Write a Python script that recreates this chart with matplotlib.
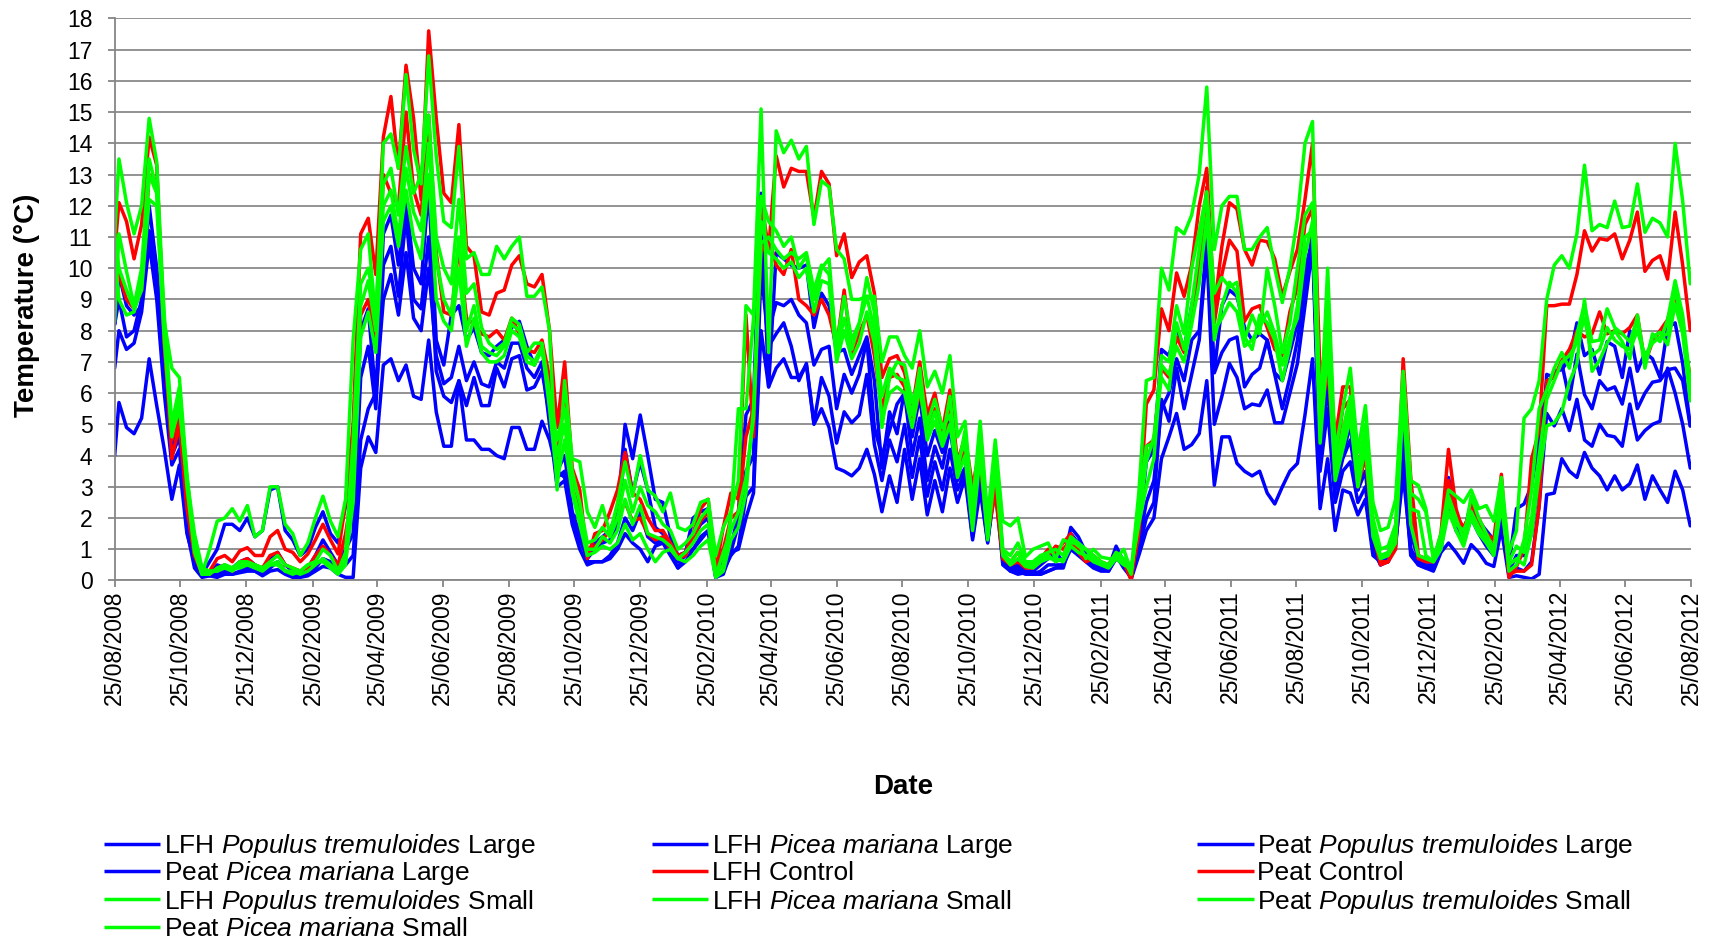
import matplotlib
matplotlib.use("Agg")
import matplotlib.pyplot as plt
from matplotlib import font_manager
from matplotlib.lines import Line2D
import pandas as pd

# Sampling schedule: logger start, then weekly means
START_DATE = "2008-08-25"
FIRST_WEEK = "2008-08-29"
N_WEEKS = 209

TICK_LABELS = ["25/08/2008", "25/10/2008", "25/12/2008", "25/02/2009", "25/04/2009",
               "25/06/2009", "25/08/2009", "25/10/2009", "25/12/2009", "25/02/2010",
               "25/04/2010", "25/06/2010", "25/08/2010", "25/10/2010", "25/12/2010",
               "25/02/2011", "25/04/2011", "25/06/2011", "25/08/2011", "25/10/2011",
               "25/12/2011", "25/02/2012", "25/04/2012", "25/06/2012", "25/08/2012"]
Y_TICKS = list(range(0, 19))

# Weekly mean soil temperature (deg C)
peat_populus_large = [
    8.2, 9.8, 8.8, 8.5, 8.8, 12.0, 10.0, 7.0, 4.3, 5.0, 2.2, 0.7, 0.2,
    0.6, 1.0, 1.8, 1.8, 1.6, 2.0, 1.4, 1.6, 2.9, 3.0, 1.6, 1.3, 0.8, 1.0, 1.7, 2.2, 1.5, 1.2, 2.4,
    2.8, 8.0, 8.7, 5.9,
    11.1, 11.7, 10.1, 12.2, 10.0, 9.5, 12.6, 7.7, 6.9, 8.5, 8.8, 7.7, 8.1, 7.3, 7.2, 7.5, 7.7, 8.1, 8.3, 7.5, 6.9, 7.5, 5.9,
    3.5, 4.0, 2.2, 1.5,
    0.9, 1.2, 1.4, 1.6, 2.2, 5.0, 3.9, 5.3, 4.0, 2.6, 2.5, 1.4, 0.8, 0.9, 2.0, 2.2, 2.3, 0.2,
    1.0, 1.0, 2.2, 5.3, 5.8, 12.4, 6.2,
    10.5, 10.3, 10.1, 10.0, 10.1, 8.1, 9.2, 8.8, 7.3, 7.4, 6.6, 7.2, 7.8, 6.4, 3.6, 5.4, 4.7,
    6.1, 4.6, 5.9, 4.0, 4.8, 4.1, 5.3, 3.5, 4.1, 1.6, 3.6, 1.4, 3.8, 0.7, 0.4, 0.5, 0.3,
    0.3, 0.5, 0.7, 0.9, 0.6, 1.7, 1.4, 0.9, 0.7, 0.5, 0.4, 1.1, 0.6, 0.2,
    1.5, 3.8, 4.2,
    7.4, 7.2, 8.1, 7.4, 8.8, 10.0, 11.1, 6.7, 8.8, 9.3, 9.1, 8.1, 7.7, 7.9, 7.7, 6.65, 6.4, 7.3, 8.25, 10.0, 10.85,
    4.5, 6.8, 3.1, 4.0, 5.0, 2.9, 4.1, 1.3, 0.6, 0.8, 1.4, 5.0, 1.5, 0.7,
    0.5, 0.5, 1.3, 3.3, 2.2, 1.5, 2.5, 1.9, 1.6, 1.3, 2.5, 0.5, 2.3,
    2.45, 3.05, 4.5, 6.2, 6.7, 6.75, 7.1, 8.25, 7.2, 7.4, 6.6, 7.65, 7.5, 6.5, 8.0, 6.7, 7.3, 7.1, 6.5, 8.1, 8.25, 6.95, 4.95,
]

lfh_populus_large = [
    8.2, 9.0, 7.8, 8.0, 9.0, 11.2, 9.5, 6.5, 4.0, 4.6, 1.8, 0.5, 0.15,
    0.2, 0.5, 0.4, 0.4, 0.6, 0.7, 0.5, 0.3, 0.7, 0.9, 0.5, 0.3, 0.3, 0.4, 0.8, 1.3, 0.9, 0.5, 1.0,
    1.5, 6.5, 7.5, 5.5,
    10.1, 10.7, 9.1, 11.7, 9.0, 8.7, 11.0, 6.7, 5.9, 5.7, 6.4, 5.6, 6.5, 5.6, 5.6, 6.8, 6.2, 7.1, 7.2, 6.1, 6.2, 6.7, 5.3,
    3.3, 3.5, 2.0, 1.3,
    0.7, 1.0, 1.2, 1.3, 1.8, 4.2, 2.8, 3.8, 2.9, 1.7, 1.5, 1.2, 0.6, 0.8, 1.4, 1.8, 2.0, 0.2,
    0.6, 0.9, 1.8, 3.5, 4.0, 11.0, 8.0,
    8.9, 8.8, 9.0, 8.5, 8.25, 6.9, 7.4, 7.5, 5.5, 6.6, 6.0, 6.6, 7.7, 4.9, 4.0, 4.8, 5.65,
    6.0, 4.0, 5.2, 3.2, 4.3, 3.6, 4.9, 3.2, 3.6, 1.5, 3.4, 1.3, 3.3, 0.6, 0.35, 0.4, 0.25,
    0.2, 0.3, 0.5, 0.5, 0.5, 1.5, 1.2, 0.8, 0.6, 0.4, 0.4, 0.9, 0.5, 0.1,
    1.2, 2.5, 3.2,
    5.5, 6.0, 7.1, 6.4, 7.7, 8.0, 10.9, 6.65, 7.3, 7.7, 7.8, 6.2, 6.6, 6.8, 7.7, 6.6, 5.5, 6.5, 7.7, 9.4, 11.2,
    4.1, 6.2, 2.9, 3.9, 4.5, 2.9, 3.5, 1.1, 0.5, 0.7, 1.2, 4.2, 1.0, 0.6,
    0.45, 0.4, 1.1, 2.8, 1.9, 1.3, 2.2, 1.7, 1.3, 1.0, 2.2, 0.3, 0.8,
    0.8, 1.5, 3.3, 6.6, 6.5, 6.95, 5.8, 7.25, 5.95, 5.5, 6.4, 6.1, 6.2, 5.65, 6.8, 5.5, 6.0, 6.35, 6.4, 6.75, 6.8, 6.4, 4.95,
]

lfh_picea_large = [
    6.8, 8.0, 7.4, 7.6, 8.6, 10.8, 9.0, 6.0, 3.7, 4.2, 1.6, 0.4, 0.1,
    0.15, 0.2, 0.3, 0.2, 0.3, 0.4, 0.3, 0.2, 0.4, 0.6, 0.3, 0.2, 0.2, 0.2, 0.4, 0.7, 0.6, 0.3, 0.5,
    0.8, 4.5, 5.5, 6.0,
    9.0, 9.8, 8.5, 10.5, 8.4, 8.0, 10.0, 7.2, 6.3, 6.5, 7.5, 6.4, 7.0, 6.3, 6.2, 7.0, 6.8, 7.6, 7.6, 6.8, 6.5, 7.0, 5.0,
    3.0, 3.2, 1.8, 1.0,
    0.5, 0.6, 0.6, 0.8, 1.2, 2.0, 1.6, 2.2, 1.4, 1.2, 1.3, 0.9, 0.4, 0.9, 1.0, 1.3, 1.6, 0.1,
    0.3, 0.8, 1.1, 2.7, 3.0, 10.0, 7.5,
    7.9, 8.25, 7.5, 6.4, 6.95, 5.05, 6.5, 5.9, 4.4, 5.4, 5.05, 5.3, 6.6, 4.35, 3.2, 4.5, 3.8,
    5.0, 3.3, 4.6, 2.7, 3.8, 2.9, 4.2, 2.9, 3.5, 1.4, 3.1, 1.25, 3.0, 0.5, 0.3, 0.3, 0.2,
    0.2, 0.2, 0.3, 0.4, 0.4, 1.2, 1.0, 0.7, 0.5, 0.4, 0.3, 0.8, 0.4, 0.1,
    1.0, 2.0, 2.5,
    5.8, 5.1, 6.8, 5.5, 6.6, 7.7, 10.6, 5.0, 5.9, 6.95, 6.5, 5.5, 5.65, 5.6, 6.1, 5.05, 5.05, 6.0, 6.95, 8.8, 10.7,
    3.5, 5.5, 2.5, 3.5, 3.8, 2.5, 3.0, 1.0, 0.5, 0.6, 1.1, 3.8, 0.8, 0.5,
    0.4, 0.35, 1.0, 2.5, 1.6, 1.2, 2.0, 1.5, 1.1, 0.8, 1.9, 0.2, 0.4,
    0.3, 0.6, 2.4, 5.35, 4.95, 5.5, 4.8, 5.8, 4.5, 4.3, 5.0, 4.65, 4.6, 4.3, 5.65, 4.5, 4.8, 5.0, 5.1, 6.8, 6.0, 5.0, 3.6,
]

peat_picea_large = [
    4.0, 5.7, 4.9, 4.7, 5.2, 7.1, 5.6, 4.2, 2.6, 3.7, 1.5, 0.6, 0.15,
    0.15, 0.1, 0.2, 0.2, 0.25, 0.3, 0.3, 0.15, 0.3, 0.35, 0.2, 0.1, 0.1, 0.15, 0.3, 0.45, 0.4, 0.2, 0.1,
    0.1, 3.6, 4.6, 4.1,
    6.9, 7.1, 6.4, 6.9, 5.9, 5.8, 7.7, 5.4, 4.3, 4.3, 6.4, 4.5, 4.5, 4.2, 4.2, 4.0, 3.9, 4.9, 4.9, 4.2, 4.2, 5.1, 4.5,
    3.5, 3.3, 2.1, 2.0,
    0.6, 0.6, 0.6, 0.7, 1.0, 1.5, 1.2, 1.0, 0.6, 1.1, 1.2, 0.8, 0.4, 0.6, 1.0, 1.4, 1.6, 0.1,
    0.2, 0.9, 1.0, 2.0, 2.8, 8.0, 6.2,
    6.8, 7.1, 6.5, 6.5, 6.9, 5.0, 5.5, 4.9, 3.6, 3.5, 3.35, 3.6, 4.2, 3.4, 2.2, 3.35, 2.5,
    4.2, 2.6, 3.9, 2.1, 3.2, 2.2, 3.6, 2.5, 3.3, 1.3, 2.9, 1.2, 3.5, 0.9, 0.3, 0.2, 0.25,
    0.3, 0.2, 0.3, 0.4, 0.5, 1.0, 0.8, 0.6, 0.4, 0.3, 0.3, 0.7, 0.5, 0.05,
    0.8, 1.6, 2.0,
    3.9, 4.6, 5.35, 4.2, 4.35, 4.7, 6.4, 3.05, 4.6, 4.6, 3.75, 3.5, 3.35, 3.5, 2.8, 2.45, 3.0, 3.5, 3.75, 5.3, 7.1,
    2.3, 3.9, 1.6, 2.9, 2.8, 2.1, 2.6, 0.8, 0.6, 0.6, 1.2, 3.4, 1.0, 0.5,
    0.4, 0.3, 0.9, 1.2, 0.9, 0.55, 1.15, 0.9, 0.55, 0.45, 1.65, 0.1, 0.15,
    0.1, 0.05, 0.2, 2.75, 2.8, 3.9, 3.5, 3.3, 4.1, 3.6, 3.35, 2.9, 3.35, 2.9, 3.1, 3.7, 2.6, 3.35, 2.9, 2.5, 3.5, 2.9, 1.75,
]

lfh_control = [
    10.5, 12.1, 11.5, 10.3, 11.4, 14.2, 13.3, 7.8, 3.9, 5.0, 2.3, 0.8, 0.2,
    0.3, 0.7, 0.8, 0.6, 0.95, 1.05, 0.8, 0.8, 1.4, 1.6, 1.0, 0.9, 0.6, 0.85, 1.3, 1.8, 1.3, 0.85, 2.5,
    5.0, 11.1, 11.6, 9.8,
    14.2, 15.5, 13.2, 16.5, 14.8, 12.2, 17.6, 14.8, 12.4, 12.1, 14.6, 10.7, 10.4, 8.6, 8.5, 9.2, 9.3, 10.1, 10.4, 9.5, 9.4, 9.8, 8.0,
    4.9, 7.0, 3.6, 2.9,
    0.7, 1.5, 1.6, 2.2, 2.9, 4.1, 2.8, 2.6, 2.0, 1.6, 1.6, 1.2, 0.8, 0.9, 1.5, 2.3, 2.6, 0.3,
    1.7, 2.8, 2.6, 8.5, 4.6, 12.2, 10.6,
    13.6, 12.6, 13.2, 13.1, 13.1, 11.6, 13.1, 12.7, 10.4, 11.1, 9.7, 10.2, 10.4, 9.2, 6.5, 7.1, 7.2,
    6.65, 5.5, 7.0, 5.3, 6.0, 4.8, 6.1, 3.8, 4.6, 3.0, 4.3, 1.8, 3.2, 0.8, 0.6, 0.9, 0.5,
    0.5, 0.7, 1.0, 0.9, 1.2, 1.5, 1.0, 0.7, 0.8, 0.6, 0.5, 0.9, 0.6, 0.0,
    1.9, 5.65, 6.1,
    8.7, 8.0, 9.85, 9.1, 10.1, 12.0, 13.2, 8.7, 10.7, 12.1, 11.9, 10.6, 10.1, 10.9, 10.85, 10.3, 9.1, 9.9, 10.6, 12.2, 14.0,
    6.5, 7.7, 4.5, 6.2, 6.2, 3.5, 4.35, 1.9, 0.6, 0.6, 1.3, 7.1, 3.3, 0.8,
    0.7, 0.6, 1.5, 4.2, 2.3, 1.5, 2.45, 2.0, 1.5, 1.3, 3.4, 0.1, 0.45,
    1.0, 3.9, 4.8, 8.8, 8.8, 8.85, 8.85, 9.8, 11.2, 10.55, 10.95, 10.9, 11.1, 10.3, 10.9, 11.8, 9.9, 10.25, 10.4, 9.65, 11.8, 10.1, 8.0,
]

peat_control = [
    9.5, 9.8, 9.0, 8.7, 9.3, 13.0, 12.8, 7.5, 4.5, 5.2, 2.5, 0.8, 0.3,
    0.2, 0.4, 0.5, 0.3, 0.6, 0.7, 0.5, 0.4, 0.8, 0.9, 0.5, 0.4, 0.3, 0.4, 0.8, 1.1, 0.8, 0.5, 1.5,
    3.0, 8.5, 9.0, 7.5,
    13.0, 12.4, 12.0, 15.0, 12.5, 11.7, 14.9, 10.5, 8.6, 8.5, 10.7, 8.4, 8.2, 7.9, 7.8, 8.0, 7.7, 8.4, 7.9, 7.4, 7.3, 7.7, 6.5,
    3.8, 6.3, 3.0, 2.2,
    1.0, 1.1, 1.3, 1.6, 2.0, 2.5, 1.9, 2.0, 1.5, 1.3, 1.4, 1.0, 0.7, 0.8, 1.3, 1.9, 2.2, 0.3,
    1.0, 2.0, 2.2, 4.6, 5.5, 10.5, 11.0,
    10.1, 9.8, 10.6, 9.0, 8.8, 8.5, 9.0, 8.5, 7.5, 9.3, 7.3, 7.9, 8.5, 7.2, 5.5, 6.5, 6.6,
    6.2, 5.0, 6.0, 4.9, 5.5, 4.5, 5.5, 3.4, 4.2, 2.6, 3.8, 1.5, 2.8, 0.7, 0.5, 0.6, 0.4,
    0.4, 0.6, 0.8, 1.1, 1.0, 1.3, 0.9, 0.6, 0.7, 0.5, 0.5, 0.8, 0.6, 0.1,
    1.5, 4.3, 4.5,
    6.8, 6.5, 7.8, 7.3, 8.4, 10.0, 12.6, 8.25, 9.8, 10.9, 10.55, 8.3, 8.7, 8.8, 8.1, 7.4, 7.2, 8.6, 9.4, 11.4, 11.9,
    5.0, 6.8, 3.8, 5.5, 5.8, 3.0, 4.0, 1.5, 0.5, 0.6, 1.0, 6.5, 2.2, 0.7,
    0.6, 0.6, 1.2, 3.2, 2.1, 1.7, 2.2, 1.8, 1.4, 1.1, 2.8, 0.2, 0.3,
    0.3, 0.5, 2.4, 6.4, 6.5, 7.05, 7.4, 8.0, 7.8, 7.9, 8.6, 7.9, 8.0, 7.9, 8.1, 8.5, 6.95, 7.65, 8.0, 8.35, 9.2, 8.0, 6.5,
]

lfh_populus_small = [
    11.0, 13.5, 12.1, 11.1, 12.0, 14.8, 13.4, 8.3, 6.8, 6.5, 3.4, 1.0, 0.2,
    1.0, 1.9, 2.0, 2.3, 1.9, 2.4, 1.4, 1.6, 3.0, 3.0, 1.8, 1.5, 0.8, 1.2, 2.0, 2.7, 1.9, 1.4, 2.6,
    7.7, 10.6, 11.1, 8.3,
    14.0, 14.3, 13.2, 16.2, 13.8, 12.7, 16.8, 13.6, 11.5, 11.3, 13.9, 10.3, 10.5, 9.8, 9.8, 10.7, 10.3, 10.7, 11.0, 9.1, 9.1, 9.4, 8.0,
    2.9, 6.4, 3.9, 3.8,
    2.2, 1.7, 2.4, 1.5, 2.5, 3.8, 2.7, 4.0, 2.9, 2.7, 2.2, 2.8, 1.7, 1.6, 1.8, 2.5, 2.6, 0.8,
    1.7, 2.2, 3.2, 8.8, 8.5, 15.1, 7.3,
    14.4, 13.7, 14.1, 13.5, 13.9, 11.4, 12.8, 12.6, 10.6, 10.3, 9.0, 9.0, 9.1, 9.1, 7.0, 7.8, 7.8,
    7.2, 6.8, 8.0, 6.2, 6.7, 6.0, 7.2, 4.6, 5.1, 2.4, 5.1, 2.0, 4.5, 1.9, 1.75, 2.0, 0.75,
    1.0, 1.1, 1.2, 0.7, 1.3, 1.2, 1.2, 0.7, 1.0, 0.75, 0.7, 0.7, 1.0, 0.3,
    2.8, 6.4, 6.5,
    10.0, 9.3, 11.3, 11.1, 11.7, 13.0, 15.8, 10.6, 12.0, 12.3, 12.3, 10.6, 10.6, 11.0, 11.3, 10.0, 8.9, 10.0, 11.6, 14.0, 14.7,
    4.7, 10.0, 4.1, 5.5, 6.8, 4.1, 5.6, 2.5, 1.6, 1.7, 2.6, 6.7, 3.2, 3.05,
    2.3, 0.7, 1.5, 2.9, 2.7, 2.5, 2.9, 2.3, 2.4, 1.9, 3.3, 0.9, 1.6,
    5.2, 5.5, 6.4, 9.0, 10.1, 10.4, 10.0, 11.1, 13.3, 11.2, 11.4, 11.3, 12.15, 11.3, 11.35, 12.7, 11.15, 11.6, 11.45, 11.0, 14.0, 12.15, 9.5,
]

lfh_picea_small = [
    8.3, 11.1, 9.9, 8.8, 10.0, 13.5, 12.5, 8.5, 5.0, 6.2, 3.2, 1.2, 0.2,
    0.2, 0.4, 0.5, 0.4, 0.6, 0.6, 0.5, 0.4, 0.6, 0.8, 0.5, 0.4, 0.3, 0.5, 0.6, 1.0, 0.8, 0.3, 0.9,
    4.5, 9.5, 10.0, 8.6,
    12.7, 13.2, 11.7, 13.9, 12.4, 13.0, 14.9, 11.0, 10.0, 9.5, 12.2, 9.2, 9.5, 8.1, 7.6, 7.4, 7.6, 8.4, 8.2, 7.3, 7.6, 7.6, 6.0,
    4.5, 5.5, 3.5, 2.5,
    1.2, 1.3, 1.7, 1.4, 2.0, 3.2, 2.2, 3.0, 2.4, 2.2, 1.8, 1.6, 1.0, 1.2, 1.5, 2.0, 2.3, 0.2,
    0.5, 2.0, 5.5, 5.5, 8.4, 12.3, 11.5,
    11.2, 10.7, 11.0, 10.0, 10.4, 9.0, 10.0, 10.3, 7.3, 8.4, 7.4, 8.2, 9.7, 8.6, 4.9, 6.5, 7.0,
    6.9, 5.7, 6.5, 5.0, 5.8, 4.9, 5.3, 3.8, 4.4, 2.0, 4.9, 1.7, 3.9, 1.0, 0.8, 1.2, 0.6,
    0.6, 0.8, 0.9, 1.0, 0.8, 1.4, 1.2, 1.0, 0.8, 0.6, 0.5, 0.9, 0.7, 0.2,
    2.5, 4.3, 4.4,
    7.2, 7.0, 8.8, 7.9, 10.0, 11.2, 12.45, 9.2, 9.7, 9.4, 9.55, 7.7, 8.5, 7.9, 10.0, 8.8, 7.3, 8.25, 10.0, 11.7, 12.1,
    5.5, 9.0, 3.7, 4.8, 5.9, 3.5, 5.0, 2.0, 1.0, 1.1, 1.8, 6.6, 2.8, 2.6,
    2.2, 0.7, 1.4, 2.7, 2.0, 1.3, 2.7, 2.0, 1.5, 1.0, 3.0, 0.3, 0.5,
    1.3, 2.9, 5.5, 6.1, 6.8, 7.3, 6.8, 7.9, 8.85, 7.65, 7.7, 8.7, 8.1, 7.9, 7.65, 8.4, 6.8, 7.9, 7.65, 8.35, 9.6, 8.5, 6.35,
]

peat_populus_small = [
    11.1, 10.0, 9.3, 8.7, 9.3, 12.2, 12.0, 7.7, 4.6, 5.8, 3.0, 0.9, 0.2,
    0.3, 0.3, 0.4, 0.3, 0.5, 0.5, 0.4, 0.3, 0.5, 0.6, 0.3, 0.3, 0.2, 0.3, 0.5, 0.7, 0.5, 0.3, 0.6,
    2.5, 7.8, 8.6, 7.3,
    11.5, 12.0, 10.7, 12.5, 11.0, 10.3, 13.0, 9.0, 8.3, 8.0, 10.0, 7.5, 8.4, 7.3, 7.0, 7.0, 7.2, 8.0, 7.8, 7.0, 6.9, 7.4, 5.8,
    4.0, 5.0, 3.0, 2.0,
    1.0, 1.0, 1.4, 1.2, 1.6, 2.6, 1.8, 2.4, 1.5, 1.4, 1.3, 1.1, 0.7, 0.9, 1.2, 1.6, 1.8, 0.15,
    0.9, 1.6, 2.2, 3.3, 5.2, 10.8, 11.0,
    10.6, 10.3, 10.5, 10.3, 10.5, 9.3, 10.1, 9.8, 7.5, 9.1, 7.7, 8.25, 9.1, 8.0, 5.9, 6.8, 6.5,
    6.4, 5.3, 6.8, 4.7, 5.4, 4.5, 5.9, 3.5, 4.8, 1.8, 4.6, 1.4, 4.2, 0.9, 0.6, 0.9, 0.5,
    0.5, 0.7, 0.8, 0.6, 0.7, 1.3, 1.1, 1.0, 0.7, 0.6, 0.5, 0.8, 0.6, 0.3,
    2.0, 3.8, 4.6,
    6.5, 6.1, 8.25, 7.4, 8.8, 10.6, 12.4, 7.7, 8.8, 9.55, 9.2, 7.8, 7.4, 8.5, 8.25, 7.7, 6.4, 7.5, 8.8, 11.0, 11.2,
    5.0, 8.2, 3.4, 4.5, 5.5, 3.2, 4.6, 1.6, 0.8, 0.9, 1.5, 6.2, 2.3, 2.2,
    0.8, 0.6, 1.2, 2.5, 1.8, 1.6, 2.2, 1.7, 1.3, 0.9, 2.6, 0.5, 0.7,
    0.5, 1.5, 3.4, 4.95, 5.05, 5.4, 6.35, 6.95, 9.0, 6.7, 7.05, 7.6, 8.0, 7.65, 7.1, 8.5, 6.95, 7.8, 7.95, 7.55, 8.85, 7.9, 5.75,
]

peat_picea_small = [
    10.5, 9.0, 8.5, 8.6, 9.5, 13.0, 12.4, 8.0, 4.7, 5.5, 3.3, 1.5, 0.4,
    0.3, 0.3, 0.5, 0.4, 0.4, 0.5, 0.5, 0.4, 0.5, 0.5, 0.3, 0.2, 0.3, 0.5, 0.6, 0.6, 0.4, 0.2, 0.5,
    3.5, 8.8, 9.6, 8.0,
    12.0, 12.5, 11.0, 13.2, 11.8, 11.2, 14.0, 10.3, 9.0, 8.5, 11.0, 8.0, 8.8, 7.5, 7.3, 7.2, 7.5, 8.2, 8.0, 7.2, 7.0, 7.5, 5.5,
    3.2, 4.5, 2.8, 1.8,
    0.8, 0.9, 1.1, 1.0, 1.2, 1.8, 1.3, 1.5, 1.0, 0.6, 0.9, 1.0, 0.7, 0.6, 0.8, 1.1, 1.3, 0.1,
    0.3, 1.3, 1.7, 2.8, 5.5, 11.5, 10.5,
    10.3, 10.0, 10.2, 9.7, 10.0, 8.6, 9.6, 9.5, 7.0, 8.0, 7.1, 7.6, 8.6, 7.6, 5.2, 6.0, 6.2,
    6.0, 4.9, 6.2, 4.5, 5.1, 4.3, 5.0, 3.3, 4.0, 1.6, 4.0, 1.3, 3.6, 0.8, 0.5, 0.7, 0.45,
    0.4, 0.6, 0.7, 0.7, 0.6, 1.1, 0.9, 0.8, 0.6, 0.5, 0.4, 0.7, 0.5, 0.4,
    1.8, 3.0, 3.9,
    6.9, 6.6, 7.5, 7.0, 8.2, 9.5, 11.6, 8.0, 8.4, 8.9, 8.6, 7.5, 7.7, 8.1, 8.6, 7.9, 6.9, 7.8, 8.4, 10.4, 11.5,
    4.4, 7.4, 3.2, 4.2, 5.2, 3.0, 4.3, 1.4, 0.7, 0.8, 1.2, 5.8, 1.8, 0.8,
    0.7, 0.6, 1.0, 2.2, 1.6, 1.1, 2.0, 1.5, 1.2, 0.8, 2.4, 0.6, 1.1,
    0.9, 2.0, 4.0, 5.8, 6.4, 7.0, 7.2, 7.6, 8.4, 7.2, 7.4, 8.1, 7.7, 7.5, 7.4, 8.0, 7.2, 7.6, 7.8, 7.9, 9.3, 8.2, 6.0,
]

SERIES = [
    (r"LFH $\mathit{Populus\ tremuloides}$ Large", lfh_populus_large, "#0000FF"),
    (r"LFH $\mathit{Picea\ mariana}$ Large", lfh_picea_large, "#0000FF"),
    (r"Peat $\mathit{Populus\ tremuloides}$ Large", peat_populus_large, "#0000FF"),
    (r"Peat $\mathit{Picea\ mariana}$ Large", peat_picea_large, "#0000FF"),
    ("LFH Control", lfh_control, "#FF0000"),
    ("Peat Control", peat_control, "#FF0000"),
    (r"LFH $\mathit{Populus\ tremuloides}$ Small", lfh_populus_small, "#00FF00"),
    (r"LFH $\mathit{Picea\ mariana}$ Small", lfh_picea_small, "#00FF00"),
    (r"Peat $\mathit{Populus\ tremuloides}$ Small", peat_populus_small, "#00FF00"),
    (r"Peat $\mathit{Picea\ mariana}$ Small", peat_picea_small, "#00FF00"),
]

dates = pd.DatetimeIndex([pd.Timestamp(START_DATE)]).append(
    pd.date_range(FIRST_WEEK, periods=N_WEEKS, freq="7D"))
for _, vals, _ in SERIES:
    assert len(vals) == len(dates), len(vals)

# Fonts
names = {f.name for f in font_manager.fontManager.ttflist}
BASE = "Liberation Sans" if "Liberation Sans" in names else "DejaVu Sans"
plt.rcParams["font.family"] = [BASE, "DejaVu Sans"]
plt.rcParams["mathtext.fontset"] = "custom"
plt.rcParams["mathtext.rm"] = BASE
plt.rcParams["mathtext.it"] = BASE + ":italic"
plt.rcParams["mathtext.bf"] = BASE + ":bold"

GRID = "#8a8a8a"
AXIS = "#868686"
LW = 2.5
W, H = 1711, 939

fig = plt.figure(figsize=(W / 100, H / 100), dpi=100)
ax = fig.add_axes([0.067, 0.3818, 0.9215, 0.5986])

for label, vals, color in SERIES:
    ax.plot(dates, vals, color=color, lw=LW, label=label,
            solid_joinstyle="round", solid_capstyle="round")

ax.set_ylim(0, 18)
ax.set_yticks(Y_TICKS)
ax.set_xlim(pd.Timestamp("2008-08-25"), pd.Timestamp("2012-08-25"))
tick_dates = pd.to_datetime(TICK_LABELS, format="%d/%m/%Y")
ax.set_xticks(tick_dates)
ax.set_xticklabels(TICK_LABELS, rotation=90, fontsize=16.5)
ax.tick_params(axis="x", direction="out", length=5, width=1.3, color=AXIS, pad=2)
ax.tick_params(axis="y", direction="out", length=5, width=1.3, color=AXIS, pad=11,
               labelsize=16.5)

ax.yaxis.grid(True, color=GRID, lw=1.3)
ax.set_axisbelow(True)
for side in ("top", "right"):
    ax.spines[side].set_visible(False)
for side in ("left", "bottom"):
    ax.spines[side].set_color(AXIS)
    ax.spines[side].set_linewidth(1.3)

fig.text(0.0158, 0.675, "Temperature (°C)", rotation=90, ha="center", va="center",
         fontsize=20, fontweight="bold")
fig.text(0.5277, 0.162, "Date", ha="center", va="center", fontsize=20,
         fontweight="bold")

# Legend: three columns filled row by row, evenly spaced rows
ROW_Y = [843.6, 870.9, 899.3, 926.5]   # handle centre, px from top
COL_X = [103.7, 651.5, 1197.0]         # handle start, px from left
HANDLE = 56.7
for k, (label, _, color) in enumerate(SERIES):
    r, c = divmod(k, 3)
    y = 1 - ROW_Y[r] / H
    x0 = COL_X[c] / W
    fig.add_artist(Line2D([x0, x0 + HANDLE / W], [y, y], transform=fig.transFigure,
                          color=color, lw=LW, solid_capstyle="butt"))
    fig.text(x0 + (HANDLE + 3.5) / W, y - 9.5 / H, label, fontsize=19,
             ha="left", va="baseline")

fig.savefig("out.png", dpi=100)
